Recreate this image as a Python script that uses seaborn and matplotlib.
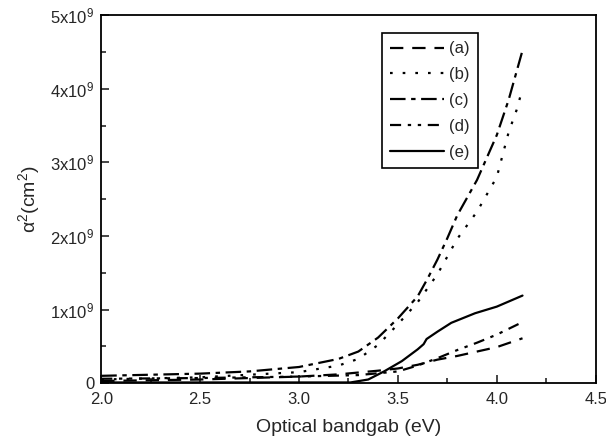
import numpy as np
import pandas as pd
import matplotlib
matplotlib.use('Agg')
import matplotlib.pyplot as plt
import seaborn as sns
from matplotlib.ticker import MultipleLocator, FuncFormatter

# Donnees (alpha^2 en unites de 1e9 cm^-2)
x_a = [2.0, 2.5, 3.0, 3.2, 3.4, 3.5, 3.6, 3.7, 3.8, 3.9, 4.0, 4.13]
y_a = [0.03, 0.05, 0.09, 0.12, 0.17, 0.20, 0.25, 0.32, 0.37, 0.43, 0.49, 0.61]

x_b = [2.0, 2.5, 3.0, 3.2, 3.3, 3.4, 3.5, 3.6, 3.7, 3.8, 3.9, 4.0, 4.06, 4.10, 4.13]
y_b = [0.05, 0.08, 0.15, 0.24, 0.33, 0.52, 0.80, 1.10, 1.48, 1.96, 2.33, 2.80, 3.41, 3.71, 4.00]

x_c = [2.0, 2.5, 2.75, 3.0, 3.2, 3.3, 3.4, 3.5, 3.6, 3.65, 3.7, 3.75, 3.8, 3.9, 4.0, 4.06, 4.13]
y_c = [0.10, 0.13, 0.16, 0.22, 0.33, 0.43, 0.62, 0.88, 1.18, 1.42, 1.68, 1.97, 2.28, 2.76, 3.37, 3.85, 4.52]

x_d = [2.0, 2.5, 3.0, 3.3, 3.5, 3.6, 3.7, 3.8, 3.9, 4.0, 4.13]
y_d = [0.06, 0.07, 0.09, 0.11, 0.16, 0.24, 0.34, 0.45, 0.55, 0.66, 0.83]

x_e = [2.0, 2.5, 3.0, 3.26, 3.35, 3.43, 3.52, 3.6, 3.63, 3.645, 3.7, 3.77, 3.89, 4.0, 4.13]
y_e = [0.01, 0.01, 0.01, 0.01, 0.05, 0.16, 0.30, 0.46, 0.53, 0.60, 0.70, 0.82, 0.95, 1.04, 1.19]

labels = ['(a)', '(b)', '(c)', '(d)', '(e)']
styles = [(0, (6, 4)), (0, (1.2, 4.5)), (0, (7, 2.5, 2, 2.5)),
          (0, (5, 3, 1.5, 3, 1.5, 3)), '-']

sns.set_style('ticks')
plt.rcParams['font.family'] = ['Liberation Sans', 'DejaVu Sans']
plt.rcParams['mathtext.default'] = 'regular'

fig = plt.figure(figsize=(6.06, 4.43), dpi=100)
ax = fig.add_axes([0.167, 0.135, 0.816, 0.831])

series = [(x_a, y_a), (x_b, y_b), (x_c, y_c), (x_d, y_d), (x_e, y_e)]
for (xs, ys), lab, ls in zip(series, labels, styles):
    df = pd.DataFrame({'E': xs, 'a2': np.array(ys) * 1e9})
    sns.lineplot(data=df, x='E', y='a2', ax=ax, color='black', lw=1.6,
                 linestyle=ls, label=lab)

ax.set_xlim(2.0, 4.5)
ax.set_ylim(0, 5e9)
ax.xaxis.set_major_locator(MultipleLocator(0.5))
ax.xaxis.set_minor_locator(MultipleLocator(0.25))
ax.yaxis.set_major_locator(MultipleLocator(1e9))
ax.yaxis.set_minor_locator(MultipleLocator(0.5e9))
ax.xaxis.set_major_formatter(FuncFormatter(lambda v, p: f'{v:.1f}'))
ax.yaxis.set_major_formatter(FuncFormatter(
    lambda v, p: '0' if v == 0 else f'{int(round(v / 1e9))}x10$^{{9}}$'))
ax.tick_params(which='both', direction='in', top=False, right=False,
               labelsize=12, width=1.2)
ax.tick_params(axis='x', which='major', pad=6)
ax.tick_params(axis='y', which='major', pad=5)
ax.tick_params(which='major', length=6)
ax.tick_params(which='minor', length=3.5)
for sp in ax.spines.values():
    sp.set_linewidth(1.3)
    sp.set_color('black')

ax.set_xlabel('Optical bandgab (eV)', fontsize=14, labelpad=9)
ax.set_ylabel(r'$\alpha^2$(cm$^2$)', fontsize=14, labelpad=6)

leg = ax.legend(loc='upper left', bbox_to_anchor=(0.568, 0.951),
                borderaxespad=0, fontsize=12, handlelength=3.2,
                frameon=True, fancybox=False, framealpha=1,
                labelspacing=0.65, handletextpad=0.3, borderpad=0.5)
leg.get_frame().set_edgecolor('black')
leg.get_frame().set_linewidth(1.2)

fig.savefig('out.png', dpi=100)
